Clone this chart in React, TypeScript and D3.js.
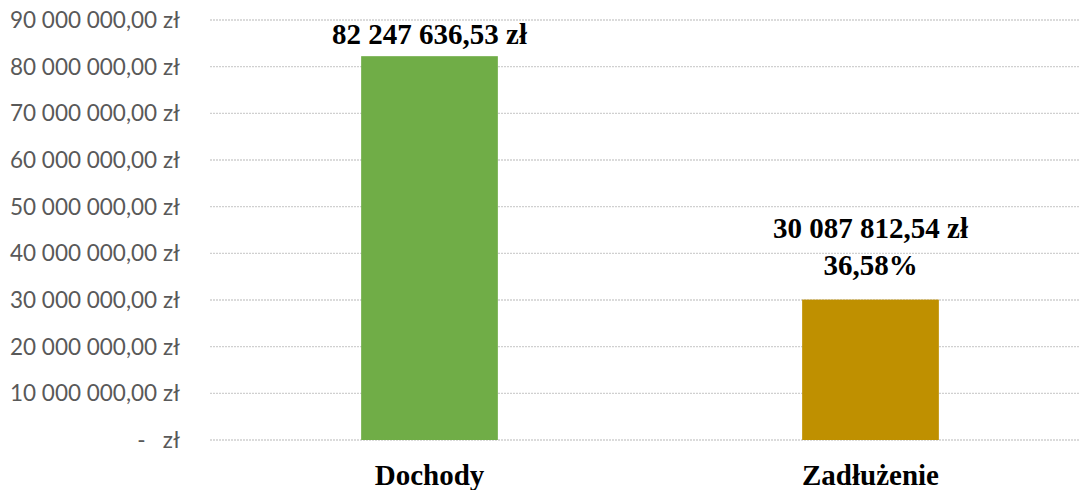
import * as d3 from "d3";

const width = 1080;
const height = 490;
const marginLeft = 209;
const marginRight = -11;
const marginTop = 20;
const marginBottom = 50;

const categories = ["Dochody", "Zadłużenie"];
const values = [82247636.53, 30087812.54];
const valueLabels = ["82 247 636,53 zł", "30 087 812,54 zł"];
const extraLabels = ["", "36,58%"];
const barColors = ["#70ad47", "#bf9000"];
const yTicks = [0, 10000000, 20000000, 30000000, 40000000, 50000000, 60000000, 70000000, 80000000, 90000000];

const pl = d3.formatLocale({ decimal: ",", thousands: " ", grouping: [3], currency: ["", " zł"] });
const fmt = pl.format(",.2f");
const tickLabel = (v: number) => (v === 0 ? "-   zł" : `${fmt(v)} zł`);

const serif = "'Liberation Serif', 'Times New Roman', serif";

const App = () => {
  const x = d3.scaleBand(categories, [marginLeft, width - marginRight]);
  const y = d3.scaleLinear([0, 90000000], [height - marginBottom, marginTop]);
  const barW = x.bandwidth() * 0.31;

  return (
    <svg width={width} height={height} style={{ position: "absolute", left: 0, top: 0 }}>
      <rect width={width} height={height} fill="white" />
      {yTicks.map((t) => (
        <g key={t}>
          <line x1={210} x2={1080} y1={y(t)} y2={y(t)} stroke="#d0d0d0" strokeWidth={1.3} strokeDasharray="2 1" />
          <text
            x={180}
            y={y(t)}
            dy="0.35em"
            textAnchor="end"
            fontFamily="Lato, 'Open Sans', sans-serif"
            fontSize={22.5}
            fill="#595959"
            style={{ whiteSpace: "pre" }}
          >
            {tickLabel(t)}
          </text>
        </g>
      ))}
      {categories.map((c, i) => {
        const cx = x(c)! + x.bandwidth() / 2;
        return (
          <g key={c}>
            <rect x={cx - barW / 2} y={y(values[i])} width={barW} height={y(0) - y(values[i])} fill={barColors[i]} />
            <text x={cx} y={485} textAnchor="middle" fontFamily={serif} fontWeight="bold" fontSize={29} fill="#000">
              {c}
            </text>
            {extraLabels[i] ? (
              <>
                <text x={cx} y={y(values[i]) - 62} textAnchor="middle" fontFamily={serif} fontWeight="bold" fontSize={29}>
                  {valueLabels[i]}
                </text>
                <text x={cx} y={y(values[i]) - 25} textAnchor="middle" fontFamily={serif} fontWeight="bold" fontSize={29}>
                  {extraLabels[i]}
                </text>
              </>
            ) : (
              <text x={cx} y={y(values[i]) - 12} textAnchor="middle" fontFamily={serif} fontWeight="bold" fontSize={29}>
                {valueLabels[i]}
              </text>
            )}
          </g>
        );
      })}
    </svg>
  );
};

export default App;
